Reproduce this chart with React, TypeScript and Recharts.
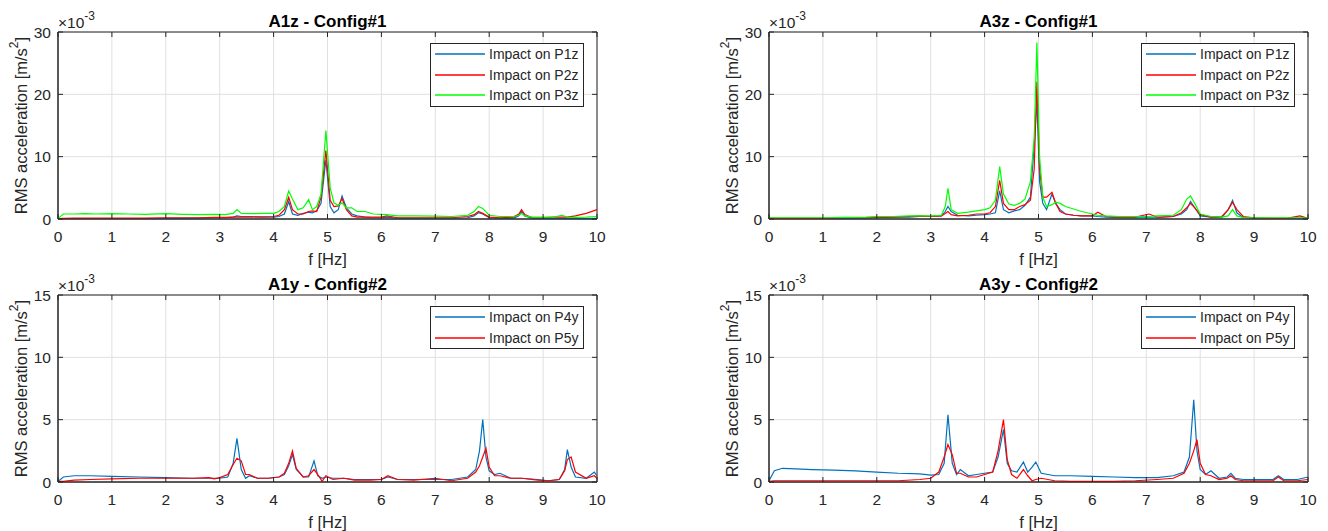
import React from 'react'
import { LineChart, Line, XAxis, YAxis, CartesianGrid, ReferenceArea, Legend } from 'recharts'

const FONT = '"Liberation Sans", Arial, Helvetica, sans-serif'
const AX = '#262626'
const BLUE = '#0072BD'
const RED = '#FF0000'
const GREEN = '#00FF00'

const CHART_W = 620
const CHART_H = 272
const MARGIN = { top: 32, right: 23, bottom: 23, left: 0 }
const Y_AXIS_W = 58
const X_AXIS_H = 30
const PLOT_W = CHART_W - MARGIN.left - MARGIN.right - Y_AXIS_W
const PLOT_H = CHART_H - MARGIN.top - MARGIN.bottom - X_AXIS_H

const xTicks = [0, 1, 2, 3, 4, 5, 6, 7, 8, 9, 10]
const yTicksZ = [0, 10, 20, 30]
const yTicksY = [0, 5, 10, 15]

// values in 1e-3 m/s^2
// A1z - Config#1
const freqA1z = [
  0, 0.1, 0.3, 0.5, 0.7, 1.0, 1.3, 1.6, 2.0, 2.3,
  2.6, 2.9, 3.1, 3.25, 3.32, 3.4, 3.6, 3.8, 4.0, 4.1,
  4.2, 4.28, 4.35, 4.45, 4.55, 4.65, 4.72, 4.8, 4.88, 4.97,
  5.05, 5.12, 5.2, 5.27, 5.35, 5.45, 5.55, 5.7, 5.85, 6.0,
  6.1, 6.3, 6.6, 7.0, 7.3, 7.6, 7.72, 7.8, 7.88, 8.0,
  8.2, 8.45, 8.55, 8.6, 8.66, 8.8, 9.0, 9.2, 9.35, 9.45,
  9.6, 9.8, 10.0,
]
const a1zP1 = [
  0.05, 0.05, 0.05, 0.05, 0.05, 0.05, 0.05, 0.05, 0.1, 0.1,
  0.15, 0.2, 0.2, 0.3, 0.5, 0.4, 0.4, 0.3, 0.3, 0.4,
  0.8, 2.8, 0.8, 0.6, 0.9, 1.1, 1.0, 1.3, 2.5, 9.5,
  2.0, 1.0, 1.5, 3.7, 1.8, 0.8, 0.5, 0.3, 0.2, 0.2,
  0.3, 0.1, 0.1, 0.1, 0.1, 0.2, 0.5, 1.0, 0.8, 0.2,
  0.1, 0.1, 0.5, 1.3, 0.5, 0.1, 0.05, 0.05, 0.1, 0.05,
  0.05, 0.05, 0.1,
]
const a1zP2 = [
  0.05, 0.1, 0.15, 0.15, 0.15, 0.15, 0.15, 0.15, 0.2, 0.2,
  0.2, 0.25, 0.25, 0.3, 0.3, 0.3, 0.3, 0.35, 0.4, 0.6,
  1.5, 3.5, 1.5, 0.8, 0.8, 1.2, 1.3, 1.2, 3.5, 11.0,
  3.0, 2.0, 2.1, 3.3, 1.5, 0.5, 0.3, 0.3, 0.3, 0.3,
  0.5, 0.2, 0.2, 0.2, 0.2, 0.4, 0.7, 1.2, 0.9, 0.3,
  0.2, 0.3, 0.8, 1.5, 0.7, 0.2, 0.2, 0.3, 0.3, 0.3,
  0.5, 0.9, 1.5,
]
const a1zP3 = [
  0.1, 0.8, 0.8, 0.85, 0.8, 0.85, 0.8, 0.75, 0.85, 0.75,
  0.7, 0.75, 0.7, 0.9, 1.5, 0.9, 0.85, 0.9, 0.9, 1.2,
  2.0, 4.5, 3.2, 1.5, 1.8, 3.1, 1.5, 2.0, 4.0, 14.2,
  5.0, 2.6, 2.2, 2.6, 1.8, 1.8, 1.2, 1.2, 0.8, 0.75,
  0.7, 0.5, 0.5, 0.45, 0.4, 0.6, 1.2, 2.0, 1.7, 0.6,
  0.4, 0.4, 0.6, 0.9, 0.5, 0.3, 0.3, 0.3, 0.6, 0.3,
  0.25, 0.3, 0.4,
]

// A3z - Config#1
const freqA3z = [
  0, 0.3, 0.6, 1.0, 1.4, 1.8, 2.0, 2.3, 2.6, 2.8,
  3.0, 3.2, 3.27, 3.32, 3.38, 3.5, 3.7, 3.85, 4.0, 4.1,
  4.2, 4.28, 4.35, 4.45, 4.55, 4.65, 4.75, 4.85, 4.92, 4.97,
  5.02, 5.08, 5.15, 5.25, 5.32, 5.4, 5.5, 5.65, 5.8, 6.0,
  6.1, 6.25, 6.5, 6.8, 7.05, 7.2, 7.5, 7.65, 7.75, 7.82,
  7.9, 8.0, 8.2, 8.4, 8.52, 8.6, 8.68, 8.8, 9.0, 9.3,
  9.6, 9.85, 10.0,
]
const a3zP1 = [
  0.1, 0.1, 0.1, 0.1, 0.1, 0.15, 0.2, 0.3, 0.3, 0.4,
  0.4, 0.5, 1.2, 2.0, 1.2, 0.6, 0.5, 0.6, 0.7, 0.8,
  1.0, 4.5, 1.5, 1.0, 1.3, 1.5, 2.2, 3.5, 12.0, 19.0,
  6.0, 2.5, 1.5, 4.0, 2.5, 1.5, 0.8, 0.6, 0.5, 0.5,
  0.4, 0.3, 0.2, 0.2, 0.2, 0.2, 0.4, 0.8, 1.5, 2.8,
  1.8, 0.5, 0.3, 0.2, 1.5, 3.0, 1.0, 0.2, 0.1, 0.1,
  0.1, 0.1, 0.1,
]
const a3zP2 = [
  0.1, 0.1, 0.1, 0.1, 0.2, 0.2, 0.3, 0.3, 0.4, 0.5,
  0.4, 0.5, 0.9, 1.2, 0.7, 0.5, 0.6, 0.8, 0.8, 1.0,
  2.0, 6.2, 2.5, 1.5, 1.5, 2.0, 2.3, 3.0, 8.0, 22.0,
  8.0, 3.5, 3.5, 4.3, 2.5, 1.2, 0.8, 0.6, 0.5, 0.5,
  1.1, 0.4, 0.3, 0.3, 0.8, 0.3, 0.4, 1.0, 1.8, 2.5,
  1.8, 0.7, 0.3, 0.4, 1.5, 2.7, 1.5, 0.4, 0.2, 0.1,
  0.1, 0.5, 0.1,
]
const a3zP3 = [
  0.2, 0.2, 0.2, 0.2, 0.25, 0.3, 0.4, 0.4, 0.5, 0.5,
  0.5, 0.6, 2.0, 4.9, 1.5, 0.9, 1.1, 1.3, 1.5, 1.8,
  3.0, 8.4, 4.0, 2.4, 2.2, 2.5, 3.2, 6.0, 13.0, 28.3,
  10.0, 3.5, 2.0, 2.3, 2.7, 2.5, 2.0, 1.6, 1.2, 0.8,
  0.6, 0.5, 0.4, 0.4, 0.4, 0.5, 0.6, 1.5, 3.2, 3.7,
  2.5, 0.8, 0.4, 0.3, 0.5, 1.5, 0.5, 0.2, 0.2, 0.2,
  0.2, 0.2, 0.2,
]

// A1y - Config#2
const freqA1y = [
  0, 0.1, 0.3, 0.6, 1.0, 1.5, 2.0, 2.5, 2.8, 2.9,
  3.0, 3.15, 3.25, 3.32, 3.4, 3.48, 3.55, 3.7, 3.9, 4.1,
  4.2, 4.28, 4.35, 4.42, 4.55, 4.65, 4.75, 4.82, 4.9, 4.97,
  5.1, 5.3, 5.5, 5.8, 6.0, 6.12, 6.3, 6.6, 7.0, 7.3,
  7.6, 7.75, 7.82, 7.88, 7.94, 8.0, 8.1, 8.2, 8.4, 8.6,
  8.9, 9.1, 9.3, 9.4, 9.45, 9.52, 9.6, 9.8, 9.95, 10.0,
]
const a1yP4 = [
  0.05, 0.4, 0.5, 0.5, 0.45, 0.4, 0.35, 0.3, 0.3, 0.3,
  0.3, 0.4, 1.5, 3.5, 1.0, 0.3, 0.5, 0.3, 0.3, 0.4,
  0.6, 1.3, 2.2, 1.0, 0.4, 0.4, 1.7, 0.5, 0.3, 0.4,
  0.3, 0.3, 0.2, 0.2, 0.2, 0.4, 0.2, 0.2, 0.2, 0.2,
  0.4, 1.0, 2.5, 5.0, 2.0, 0.9, 0.6, 0.7, 0.3, 0.3,
  0.2, 0.1, 0.2, 1.0, 2.6, 1.2, 0.4, 0.3, 0.8, 0.5,
]
const a1yP5 = [
  0.05, 0.05, 0.15, 0.2, 0.25, 0.3, 0.3, 0.3, 0.35, 0.25,
  0.35, 0.6, 1.4, 1.9, 1.7, 0.6, 0.6, 0.3, 0.3, 0.4,
  0.7, 1.5, 2.5, 1.1, 0.4, 0.5, 1.0, 0.6, 0.05, 0.5,
  0.2, 0.3, 0.15, 0.15, 0.2, 0.5, 0.2, 0.15, 0.3, 0.1,
  0.3, 0.8, 1.3, 2.0, 2.7, 1.2, 0.5, 0.5, 0.3, 0.3,
  0.15, 0.1, 0.2, 0.9, 1.8, 2.0, 0.8, 0.3, 0.5, 0.3,
]

// A3y - Config#2
const freqA3y = [
  0, 0.1, 0.25, 0.5, 0.8, 1.2, 1.6, 2.0, 2.4, 2.8,
  3.0, 3.15, 3.25, 3.32, 3.4, 3.48, 3.55, 3.7, 3.85, 4.0,
  4.15, 4.25, 4.35, 4.42, 4.5, 4.6, 4.72, 4.8, 4.88, 4.95,
  5.05, 5.3, 5.6, 6.0, 6.4, 6.8, 7.2, 7.5, 7.7, 7.8,
  7.88, 7.94, 8.0, 8.1, 8.2, 8.35, 8.5, 8.57, 8.65, 8.8,
  9.1, 9.35, 9.45, 9.55, 9.8, 10.0,
]
const a3yP4 = [
  0.1, 0.9, 1.1, 1.05, 1.0, 0.95, 0.9, 0.8, 0.7, 0.65,
  0.55, 0.6, 1.5, 5.4, 1.5, 0.6, 1.0, 0.5, 0.6, 0.7,
  0.8, 2.0, 4.2, 1.5, 0.9, 0.8, 1.6, 0.8, 1.2, 1.6,
  0.7, 0.5, 0.5, 0.45, 0.4, 0.35, 0.35, 0.5, 0.8, 2.0,
  6.6, 2.5, 1.0, 0.6, 0.9, 0.3, 0.4, 0.7, 0.3, 0.2,
  0.2, 0.2, 0.5, 0.2, 0.2, 0.4,
]
const a3yP5 = [
  0.05, 0.1, 0.1, 0.1, 0.1, 0.1, 0.1, 0.1, 0.1, 0.2,
  0.3, 0.8, 2.0, 3.0, 2.2, 0.7, 0.7, 0.4, 0.4, 0.6,
  0.8, 2.5, 5.0, 1.8, 0.6, 0.3, 1.0, 0.5, 0.1, 0.2,
  0.3, 0.1, 0.05, 0.05, 0.05, 0.1, 0.2, 0.3, 0.7, 1.5,
  2.5, 3.4, 1.5, 0.6, 0.5, 0.2, 0.3, 0.5, 0.2, 0.1,
  0.1, 0.1, 0.4, 0.1, 0.1, 0.2,
]

type Series = { name: string; color: string; values: number[] }

const XTick = (props: any) => {
  const { x, y, payload } = props
  return (
    <g>
      <line x1={x} x2={x} y1={y} y2={y - 5} stroke={AX} />
      <line x1={x} x2={x} y1={y - PLOT_H} y2={y - PLOT_H + 5} stroke={AX} />
      <text x={x} y={y + 17} textAnchor="middle" dominantBaseline="central" fill={AX} fontSize={15.5} fontFamily={FONT}>
        {payload.value}
      </text>
    </g>
  )
}

const YTick = (props: any) => {
  const { x, y, payload } = props
  return (
    <g>
      <line x1={x} x2={x + 5} y1={y} y2={y} stroke={AX} />
      <line x1={x + PLOT_W} x2={x + PLOT_W - 5} y1={y} y2={y} stroke={AX} />
      <text x={x - 7} y={y} textAnchor="end" dominantBaseline="central" fill={AX} fontSize={15.5} fontFamily={FONT}>
        {payload.value}
      </text>
    </g>
  )
}

const YLabel = (props: any) => {
  const vb = props.viewBox
  const cx = vb.x + vb.width - 37
  const cy = vb.y + vb.height / 2
  return (
    <text
      transform={`translate(${cx}, ${cy}) rotate(-90)`}
      textAnchor="middle"
      dominantBaseline="central"
      fill={AX}
      fontSize={16.5}
      fontFamily={FONT}
    >
      RMS acceleration [m/s<tspan dy={-7} fontSize={12}>2</tspan>
      <tspan dy={7}>]</tspan>
    </text>
  )
}

const XLabel = (props: any) => {
  const vb = props.viewBox
  return (
    <text x={vb.x + vb.width / 2} y={vb.y + 40} textAnchor="middle" dominantBaseline="central" fill={AX} fontSize={16.5} fontFamily={FONT}>
      f [Hz]
    </text>
  )
}

const LegendBox = (props: any) => (
  <div style={{ border: `1px solid ${AX}`, background: '#fff', width: 152, fontFamily: FONT, fontSize: 14, color: AX }}>
    {(props.payload || []).map((item: any) => (
      <div key={item.value} style={{ display: 'flex', alignItems: 'center', height: 20.5 }}>
        <svg width={58} height={20}>
          <line x1={4} x2={54} y1={10} y2={10} stroke={item.color} strokeWidth={1.3} />
        </svg>
        <span style={{ whiteSpace: 'nowrap' }}>{item.value}</span>
      </div>
    ))}
  </div>
)

function Panel({ left, top, title, freq, series, yMax, yTicks }: {
  left: number; top: number; title: string; freq: number[]; series: Series[]; yMax: number; yTicks: number[]
}) {
  const data = freq.map((f, i) => {
    const row: any = { f }
    series.forEach((s, k) => { row['s' + k] = s.values[i] })
    return row
  })
  const plotLeft = MARGIN.left + Y_AXIS_W
  return (
    <div style={{ position: 'absolute', left, top, width: CHART_W, height: CHART_H }}>
      <LineChart width={CHART_W} height={CHART_H} data={data} margin={MARGIN}>
        <CartesianGrid stroke="#e0e0e0" />
        <XAxis
          dataKey="f"
          type="number"
          domain={[0, 10]}
          ticks={xTicks}
          height={X_AXIS_H}
          tickSize={0}
          tickMargin={0}
          tickLine={false}
          axisLine={{ stroke: AX }}
          tick={<XTick />}
          interval={0}
          label={{ content: <XLabel /> }}
        />
        <YAxis
          type="number"
          domain={[0, yMax]}
          ticks={yTicks}
          width={Y_AXIS_W}
          tickSize={0}
          tickMargin={0}
          tickLine={false}
          axisLine={{ stroke: AX }}
          tick={<YTick />}
          interval={0}
          allowDataOverflow
          label={{ content: <YLabel /> }}
        />
        <ReferenceArea x1={0} x2={10} y1={0} y2={yMax} fill="none" stroke={AX} strokeWidth={1} ifOverflow="visible" />
        {series.map((s, k) => (
          <Line
            key={s.name}
            type="linear"
            dataKey={'s' + k}
            name={s.name}
            stroke={s.color}
            strokeWidth={1.2}
            dot={false}
            activeDot={false}
            isAnimationActive={false}
          />
        ))}
        <Legend
          layout="vertical"
          align="center"
          verticalAlign="middle"
          content={<LegendBox />}
          wrapperStyle={{ left: 430, top: 43, width: 'auto', height: 'auto' }}
        />
      </LineChart>
      <svg width={CHART_W} height={CHART_H} style={{ position: 'absolute', left: 0, top: 0, pointerEvents: 'none' }}>
        <text x={plotLeft + PLOT_W / 2} y={21} textAnchor="middle" dominantBaseline="central" fill="#000" fontSize={17} fontWeight="bold" fontFamily={FONT}>
          {title}
        </text>
        <text x={plotLeft} y={28} fill={AX} fontSize={15.5} fontFamily={FONT}>
          ×10<tspan dy={-8} fontSize={12}>-3</tspan>
        </text>
      </svg>
    </div>
  )
}

export default function App() {
  return (
    <div style={{ position: 'absolute', left: 0, top: 0, width: 1328, height: 531, background: '#fff', overflow: 'hidden' }}>
      <Panel
        left={0}
        top={0}
        title="A1z - Config#1"
        freq={freqA1z}
        yMax={30}
        yTicks={yTicksZ}
        series={[
          { name: 'Impact on P1z', color: BLUE, values: a1zP1 },
          { name: 'Impact on P2z', color: RED, values: a1zP2 },
          { name: 'Impact on P3z', color: GREEN, values: a1zP3 },
        ]}
      />
      <Panel
        left={711}
        top={0}
        title="A3z - Config#1"
        freq={freqA3z}
        yMax={30}
        yTicks={yTicksZ}
        series={[
          { name: 'Impact on P1z', color: BLUE, values: a3zP1 },
          { name: 'Impact on P2z', color: RED, values: a3zP2 },
          { name: 'Impact on P3z', color: GREEN, values: a3zP3 },
        ]}
      />
      <Panel
        left={0}
        top={263}
        title="A1y - Config#2"
        freq={freqA1y}
        yMax={15}
        yTicks={yTicksY}
        series={[
          { name: 'Impact on P4y', color: BLUE, values: a1yP4 },
          { name: 'Impact on P5y', color: RED, values: a1yP5 },
        ]}
      />
      <Panel
        left={711}
        top={263}
        title="A3y - Config#2"
        freq={freqA3y}
        yMax={15}
        yTicks={yTicksY}
        series={[
          { name: 'Impact on P4y', color: BLUE, values: a3yP4 },
          { name: 'Impact on P5y', color: RED, values: a3yP5 },
        ]}
      />
    </div>
  )
}
